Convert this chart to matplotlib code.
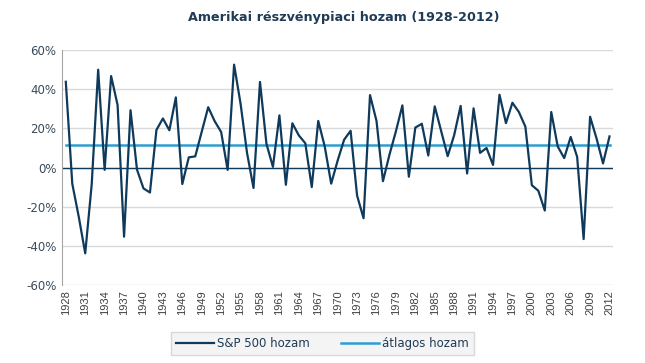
import numpy as np
import matplotlib
matplotlib.use("Agg")
import matplotlib.pyplot as plt
from matplotlib.ticker import FuncFormatter

# S&P 500 éves hozamok (%), 1928-2012
years = list(range(1928, 2013))
sp500 = [43.81, -8.30, -25.12, -43.84, -8.64, 49.98, -1.19, 46.74, 31.94, -35.34,
         29.28, -1.10, -10.67, -12.77, 19.17, 25.06, 19.03, 35.82, -8.43, 5.20,
         5.70, 18.30, 30.81, 23.68, 18.15, -1.21, 52.56, 32.60, 7.44, -10.46,
         43.72, 12.06, 0.34, 26.64, -8.81, 22.61, 16.42, 12.40, -9.97, 23.80,
         10.81, -8.24, 3.56, 14.22, 18.76, -14.31, -25.90, 37.00, 23.83, -6.98,
         6.51, 18.52, 31.74, -4.70, 20.42, 22.34, 6.15, 31.24, 18.49, 5.81,
         16.54, 31.48, -3.06, 30.23, 7.49, 9.97, 1.33, 37.20, 22.68, 33.10,
         28.34, 20.89, -9.03, -11.85, -21.97, 28.36, 10.74, 4.83, 15.61, 5.48,
         -36.55, 25.94, 14.82, 2.10, 15.89]
atlag = [11.26] * len(years)

navy = "#0F3A5C"
kek = "#2E9ED1"
szurke = "#D9D9D9"

fig = plt.figure(figsize=(6.45, 3.63), dpi=100)
ax = fig.add_axes([0.096, 0.215, 0.854, 0.647])

ax.plot(years, sp500, color=navy, lw=1.6, label="S&P 500 hozam", zorder=3)
ax.plot(years, atlag, color=kek, lw=1.8, label="átlagos hozam", zorder=2)

ax.set_xlim(1927.4, 2012.5)
ax.set_ylim(-60, 60)
ax.set_yticks(range(-60, 61, 20))
ax.yaxis.set_major_formatter(FuncFormatter(lambda v, p: f"{int(v)}%"))
ax.set_xticks(years[::3])
ax.set_xticklabels([str(y) for y in years[::3]], rotation=90,
                   fontsize=8, family="Liberation Sans", color="#404040")
for lab in ax.get_yticklabels():
    lab.set_fontsize(8.5)
    lab.set_color("#3A4A5A")

ax.grid(axis="y", color=szurke, lw=1)
ax.axhline(0, color=navy, lw=1, zorder=2)
ax.tick_params(length=0, pad=4)
for s in ["top", "right", "bottom"]:
    ax.spines[s].set_visible(False)
ax.spines["left"].set_color("#A6A6A6")

fig.suptitle("Amerikai részvénypiaci hozam (1928-2012)", x=0.533, y=0.97,
             fontsize=9.2, fontweight="bold", color="#1F3B55")

leg = fig.legend(loc="center", bbox_to_anchor=(0.50, 0.054), ncol=2,
                 frameon=True, fontsize=8.5, handlelength=3.2, columnspacing=2.6,
                 handletextpad=0.3, borderpad=0.4, fancybox=False)
leg.get_frame().set_facecolor("#F2F2F2")
leg.get_frame().set_edgecolor("#D0D0D0")
for t in leg.get_texts():
    t.set_color("#1F3B55")

fig.savefig("out.png", dpi=100)
